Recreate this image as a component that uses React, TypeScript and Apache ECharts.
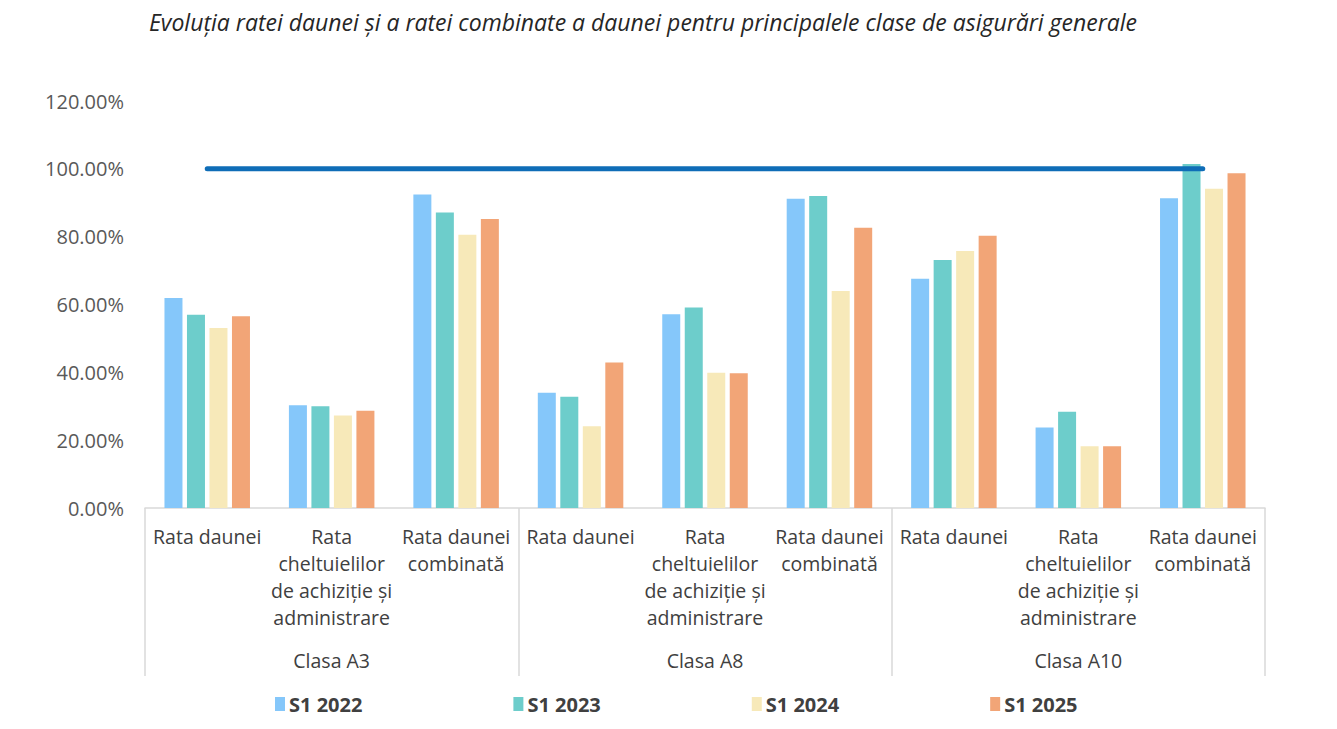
import React, { useEffect, useRef } from "react";
import * as echarts from "echarts";

const TITLE = "Evoluția ratei daunei și a ratei combinate a daunei pentru principalele clase de asigurări generale";

const CATEGORIES = [
  "Rata daunei",
  "Rata\ncheltuielilor\nde achiziție și\nadministrare",
  "Rata daunei\ncombinată",
  "Rata daunei",
  "Rata\ncheltuielilor\nde achiziție și\nadministrare",
  "Rata daunei\ncombinată",
  "Rata daunei",
  "Rata\ncheltuielilor\nde achiziție și\nadministrare",
  "Rata daunei\ncombinată",
];

const CLASSES = ["Clasa A3", "Clasa A8", "Clasa A10"];

const S1_2022 = [61.9, 30.3, 92.4, 34.0, 57.1, 91.2, 67.6, 23.7, 91.3];
const S1_2023 = [57.0, 30.0, 87.1, 32.8, 59.1, 92.0, 73.1, 28.4, 101.4];
const S1_2024 = [53.1, 27.3, 80.6, 24.1, 39.9, 64.0, 75.8, 18.2, 94.1];
const S1_2025 = [56.5, 28.7, 85.2, 42.9, 39.7, 82.6, 80.3, 18.2, 98.7];
const REFERINTA = [100, 100, 100, 100, 100, 100, 100, 100, 100];

const SERIES_NAMES = ["S1 2022", "S1 2023", "S1 2024", "S1 2025"];
const COLORS = ["#85C7FA", "#6DCDCB", "#F7E9B9", "#F2A577"];

const FONT = "'Open Sans', 'Noto Sans', sans-serif";

export default function App() {
  const ref = useRef<HTMLDivElement>(null);

  useEffect(() => {
    document.body.style.margin = "0";
    if (!ref.current) return;
    const chart = echarts.init(ref.current, null, { renderer: "svg" });
    const values = [S1_2022, S1_2023, S1_2024, S1_2025];
    chart.setOption({
      animation: false,
      backgroundColor: "#ffffff",
      title: {
        text: TITLE,
        left: 638,
        textAlign: "center",
        top: 5,
        textStyle: {
          fontFamily: FONT,
          fontStyle: "italic",
          fontWeight: "normal",
          fontSize: 23,
          color: "#262626",
        },
      },
      legend: {
        bottom: 10,
        left: 270,
        itemWidth: 10,
        itemHeight: 14,
        itemGap: 151,
        icon: "rect",
        data: SERIES_NAMES,
        textStyle: {
          fontFamily: FONT,
          fontWeight: "bold",
          fontSize: 20,
          color: "#404040",
          padding: [0, 0, 0, -1],
        },
      },
      grid: { left: 145, right: 72, top: 101, bottom: 221, containLabel: false },
      xAxis: [
        {
          type: "category",
          data: CATEGORIES,
          position: "bottom",
          axisLine: { show: false },
          axisTick: { show: false },
          axisLabel: {
            interval: 0,
            margin: 15,
            fontFamily: FONT,
            fontSize: 19.5,
            lineHeight: 27,
            color: "#404040",
          },
        },
        {
          type: "category",
          data: CLASSES,
          position: "bottom",
          offset: 0,
          axisLine: { show: true, lineStyle: { color: "#D9D9D9", width: 1.5 } },
          axisTick: {
            show: true,
            alignWithLabel: false,
            length: 168,
            lineStyle: { color: "#D9D9D9", width: 1.5 },
          },
          axisLabel: {
            interval: 0,
            margin: 142,
            fontFamily: FONT,
            fontSize: 19.5,
            color: "#404040",
          },
        },
      ],
      yAxis: {
        type: "value",
        min: 0,
        max: 120,
        interval: 20,
        axisLine: { show: false },
        axisTick: { show: false },
        splitLine: { show: false },
        axisLabel: {
          margin: 21,
          fontFamily: FONT,
          fontSize: 20,
          color: "#595959",
          formatter: (v: number) => v.toFixed(2) + "%",
        },
      },
      series: [
        ...values.map((d, i) => ({
          name: SERIES_NAMES[i],
          type: "bar",
          xAxisIndex: 0,
          data: d,
          barWidth: 18,
          barGap: "25%",
          itemStyle: { color: COLORS[i] },
          z: 2,
        })),
        {
          name: "Prag 100%",
          type: "line",
          xAxisIndex: 0,
          data: REFERINTA,
          symbol: "none",
          lineStyle: { color: "#0F6DB7", width: 5, cap: "round" },
          z: 3,
        },
      ],
    });
    return () => chart.dispose();
  }, []);

  return <div ref={ref} style={{ width: 1337, height: 729 }} />;
}
